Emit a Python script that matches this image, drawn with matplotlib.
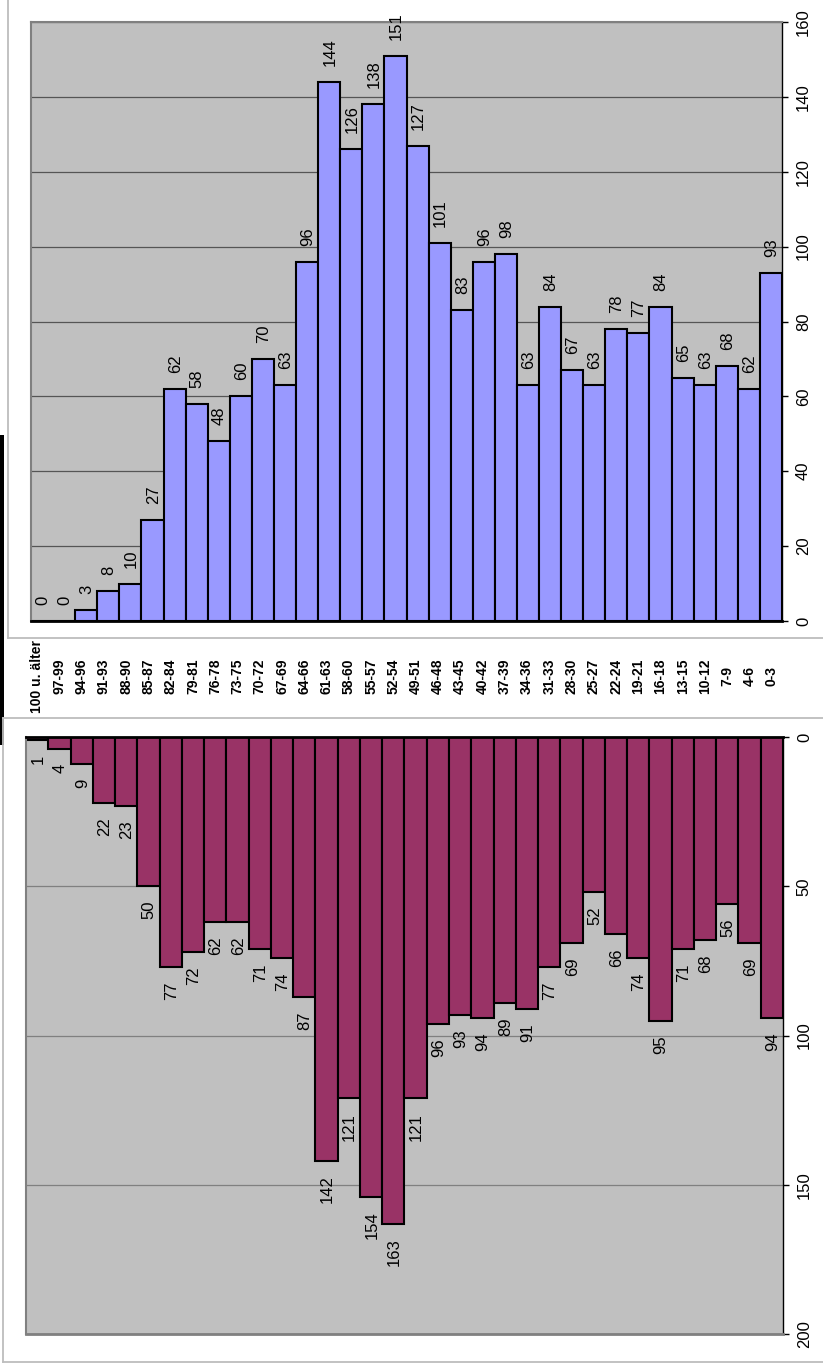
import numpy as np
import matplotlib
matplotlib.use("Agg")
import matplotlib.pyplot as plt
from matplotlib.lines import Line2D
from matplotlib.patches import Rectangle
from matplotlib.transforms import blended_transform_factory

plt.rcParams['font.family'] = ['Liberation Sans', 'DejaVu Sans']

# age groups, oldest first
age_groups = ["100 u. älter", "97-99", "94-96", "91-93", "88-90", "85-87", "82-84",
              "79-81", "76-78", "73-75", "70-72", "67-69", "64-66", "61-63", "58-60",
              "55-57", "52-54", "49-51", "46-48", "43-45", "40-42", "37-39", "34-36",
              "31-33", "28-30", "25-27", "22-24", "19-21", "16-18", "13-15", "10-12",
              "7-9", "4-6", "0-3"]

# upper (blue) series
blue_vals = [0, 0, 3, 8, 10, 27, 62, 58, 48, 60, 70, 63, 96, 144, 126, 138, 151, 127,
             101, 83, 96, 98, 63, 84, 67, 63, 78, 77, 84, 65, 63, 68, 62, 93]

# lower (maroon) series
red_vals = [1, 4, 9, 22, 23, 50, 77, 72, 62, 62, 71, 74, 87, 142, 121, 154, 163, 121,
            96, 93, 94, 89, 91, 77, 69, 52, 66, 74, 95, 71, 68, 56, 69, 94]

blue_ticks = list(range(0, 161, 20))
red_ticks = list(range(0, 201, 50))

W, H = 823, 1368


def box(left, top, right, bottom):
    # pixel box -> figure coords
    return [left / W, 1 - bottom / H, (right - left) / W, (bottom - top) / H]


def fline(x0, y0, x1, y1, color='#BDBDBD', lw=1.3):
    fig.add_artist(Line2D([x0 / W, x1 / W], [1 - y0 / H, 1 - y1 / H],
                          transform=fig.transFigure, color=color, lw=lw))


def style_axes(ax, grid_color):
    ax.set_facecolor('#C0C0C0')
    ax.yaxis.tick_right()
    ax.set_xticks([])
    ax.tick_params(axis='y', direction='out', length=4, width=1, pad=6,
                   labelsize=12, labelrotation=90, colors='black')
    for lab in ax.get_yticklabels():
        lab.set_va('center')
    ax.grid(axis='y', color=grid_color, lw=0.9)
    ax.set_axisbelow(True)
    ax.spines['left'].set_color('#808080')
    ax.spines['left'].set_linewidth(1.5)
    ax.spines['right'].set_color('black')
    ax.spines['right'].set_linewidth(1.0)


fig = plt.figure(figsize=(W / 100, H / 100), dpi=100)
x = np.arange(len(age_groups))

# top chart
ax1 = fig.add_axes(box(31, 22, 782, 621))
ax1.bar(x, blue_vals, width=1.0, color='#9999FF', edgecolor='black', linewidth=1.5)
ax1.set_xlim(-0.5, len(age_groups) - 0.5)
ax1.set_ylim(0, 160)
ax1.set_yticks(blue_ticks)
style_axes(ax1, '#555555')
ax1.spines['top'].set_color('#808080')
ax1.spines['top'].set_linewidth(1.5)
ax1.spines['bottom'].set_color('black')
ax1.spines['bottom'].set_linewidth(2)
for i, v in enumerate(blue_vals):
    ax1.annotate(str(v), (i, v), xytext=(0.5, 11.5), textcoords='offset points',
                 rotation=90, ha='center', va='bottom', fontsize=12)

# bottom chart (hanging down)
ax2 = fig.add_axes(box(26, 737, 783, 1334))
ax2.bar(x, red_vals, width=1.0, color='#993366', edgecolor='black', linewidth=1.5)
ax2.set_xlim(-0.5, len(age_groups) - 0.5)
ax2.set_ylim(200, 0)
ax2.set_yticks(red_ticks)
style_axes(ax2, '#808080')
ax2.spines['bottom'].set_color('#808080')
ax2.spines['bottom'].set_linewidth(2)
ax2.spines['top'].set_color('black')
ax2.spines['top'].set_linewidth(2)
for i, v in enumerate(red_vals):
    ax2.annotate(str(v), (i, v), xytext=(0.5, -10.5), textcoords='offset points',
                 rotation=90, ha='center', va='top', fontsize=12)

# category labels between the charts
trans = blended_transform_factory(ax2.transData, fig.transFigure)
for i, lab in enumerate(age_groups):
    ax2.text(i, 1 - 676 / H, lab, transform=trans, rotation=90, ha='center',
             va='center', fontsize=10, fontweight='bold', clip_on=False)

# outer chart frames
fline(8, 0, 8, 638)
fline(8, 638, W, 638)
fline(3, 718, 3, 1362)
fline(3, 718, W, 718)
fline(3, 1362, W, 1362)

# black strip on the left edge
fig.add_artist(Rectangle((0, 1 - 745 / H), 4 / W, 310 / H, transform=fig.transFigure,
                         color='black', lw=0))

fig.savefig('out.png', dpi=100)
